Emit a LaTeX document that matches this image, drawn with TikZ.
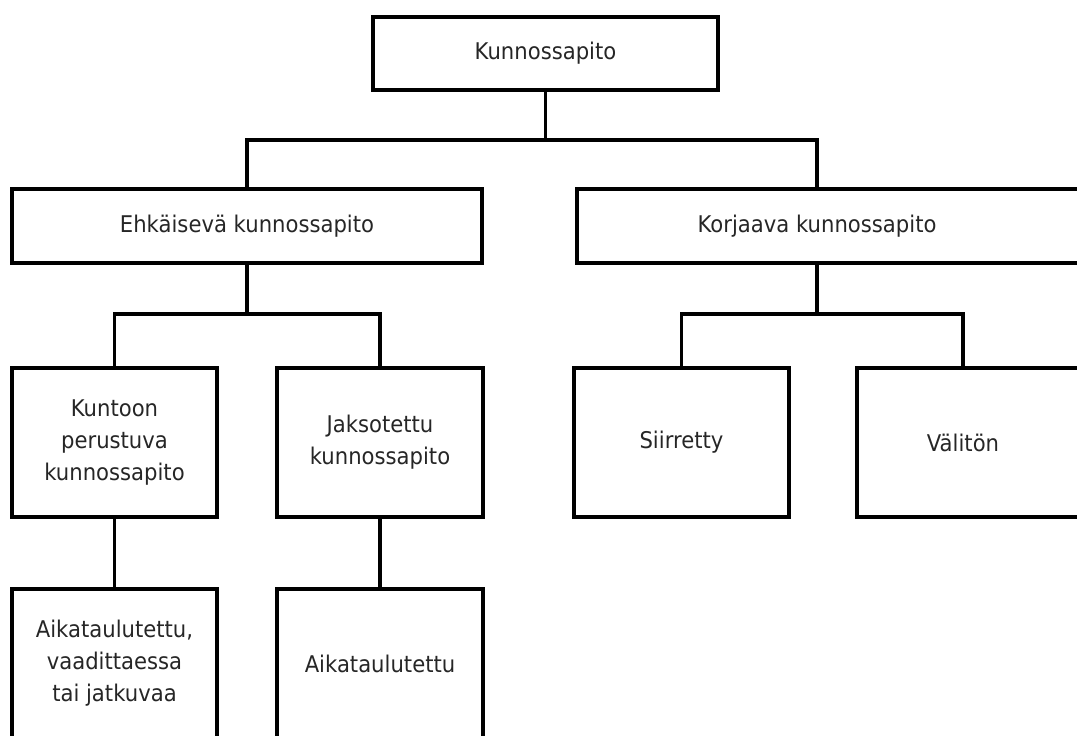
\documentclass[tikz,border=0pt]{standalone}
\usepackage{fontspec}
\setmainfont{DejaVu Sans}[FakeStretch=0.92]
\begin{document}
\begin{tikzpicture}[x=1pt,y=-1pt,
  box/.style={draw=black, line width=3.3pt, rectangle, inner sep=0pt, outer sep=0pt,
    text=black!85, align=center, font=\fontsize{23}{32}\selectfont},
  lbl/.style={inner sep=0pt, text=black!85, align=center, font=\fontsize{23}{32}\selectfont},
  wire/.style={draw=black, line width=3.3pt, line join=miter}]
\useasboundingbox (0,0) rectangle (1077,736);
\clip (0,0) rectangle (1077,736);
% boxes
\node[box, minimum width=345, minimum height=73] (top) at (545.5,53.5) {Kunnossapito};
\node[box, minimum width=470, minimum height=74] (ehk) at (247,226) {Ehkäisevä kunnossapito};
\node[box, minimum width=530, minimum height=74] (korj) at (842,226) {};
\node[lbl] (korjt) at (817,226) {Korjaava kunnossapito};
\node[box, minimum width=205, minimum height=149] (kunt) at (114.5,442.5) {Kuntoon\\perustuva\\kunnossapito};
\node[box, minimum width=206, minimum height=149] (jaks) at (380,442.5) {Jaksotettu\\kunnossapito};
\node[box, minimum width=215, minimum height=149] (siir) at (681.5,442.5) {Siirretty};
\node[box, minimum width=260, minimum height=149] (valit) at (987,442.5) {};
\node[lbl] (valitt) at (963,442.5) {Välitön};
\node[box, minimum width=205, minimum height=149] (aik1) at (114.5,663.5) {Aikataulutettu,\\vaadittaessa\\tai jatkuvaa};
\node[box, minimum width=206, minimum height=149] (aik2) at (380,663.5) {Aikataulutettu};
% junction coordinates
\coordinate (b1) at (545.5,140);
\coordinate (kn) at (817,189);
\coordinate (ks) at (817,263);
\coordinate (b2) at (247,314);
\coordinate (b3) at (817,314);
\coordinate (vn) at (963,368);
% connectors
\draw[wire] (top.south) -- (b1);
\draw[wire] (ehk.north) |- (b1) -| (kn);
\draw[wire] (ehk.south) -- (b2);
\draw[wire] (kunt.north) |- (b2) -| (jaks.north);
\draw[wire] (ks) -- (b3);
\draw[wire] (siir.north) |- (b3) -| (vn);
\draw[wire] (kunt.south) -- (aik1.north);
\draw[wire] (jaks.south) -- (aik2.north);
\end{tikzpicture}
\end{document}
